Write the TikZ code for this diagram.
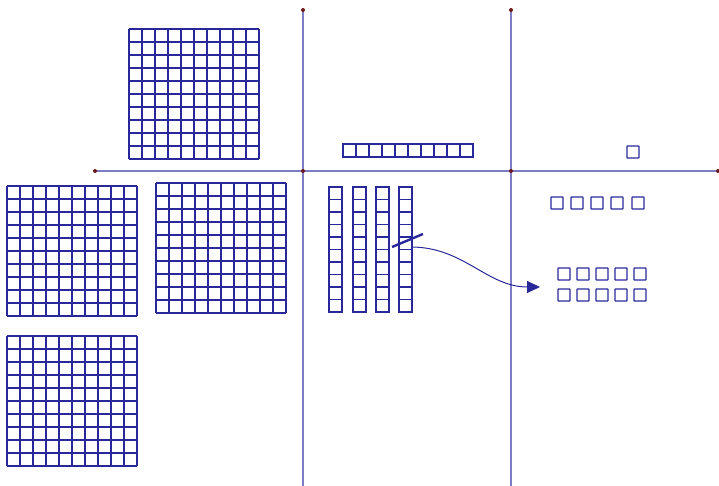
\documentclass[tikz,border=0pt]{standalone}
\usetikzlibrary{arrows.meta}
\definecolor{BlockBlue}{RGB}{40,40,155}
\definecolor{AxisBlue}{RGB}{125,125,195}
\definecolor{DotRed}{RGB}{110,25,25}

\tikzset{
  hundred/.pic={
    \foreach \k in {0,...,10} {
      \draw[cell] (\k*13,0) -- (\k*13,130);
      \draw[cell] (0,\k*13) -- (130,\k*13);
    }
  },
  tencol/.pic={
    \draw[cell] (0,0) rectangle (13,125);
    \foreach \k in {1,...,9} \draw[cell] (0,\k*12.5) -- (13,\k*12.5);
  },
  tenrow/.pic={
    \draw[cell] (0,0) rectangle (130,13);
    \foreach \k in {1,...,9} \draw[cell] (\k*13,0) -- (\k*13,13);
  },
}

\begin{document}
\begin{tikzpicture}[x=1bp, y=-1bp,
    cell/.style={draw=BlockBlue, line width=1.2bp},
    unit/.style={draw=BlockBlue, line width=1.3bp, rounded corners=0.5bp},
    axis/.style={AxisBlue, line width=1.6bp},
    cutline/.style={BlockBlue, line width=2.4bp},
    move/.style={-{Triangle[length=13bp, width=12bp]}, line width=1bp, BlockBlue},
    dot/.style={circle, fill=DotRed, inner sep=0pt, minimum size=4bp},
  ]
  \useasboundingbox (0,0) rectangle (719,486);

  % place-value axes
  \coordinate (hl) at (95,171);
  \coordinate (hr) at (718,171);
  \coordinate (ta) at (303,10);
  \coordinate (tb) at (511,10);
  \coordinate (ba) at (303,486);
  \coordinate (bb) at (511,486);
  \coordinate (ca) at (303,171);
  \coordinate (cb) at (511,171);
  \draw[axis] (hl) -- (hr);
  \draw[axis] (ta) -- (ba);
  \draw[axis] (tb) -- (bb);
  \foreach \p in {hl,hr,ta,tb,ca,cb} \node[dot] at (\p) {};

  % hundreds
  \pic at (129,29) {hundred};
  \pic at (7,186) {hundred};
  \pic at (156,183) {hundred};
  \pic at (7,336) {hundred};

  % tens
  \pic at (343,144) {tenrow};
  \foreach \x in {329,353,376,399} \pic at (\x,187) {tencol};

  % ones
  \draw[unit] (627,146) rectangle ++(12,12);
  \foreach \x in {551,571,591,611,632} \draw[unit] (\x,197) rectangle ++(12,12);
  \foreach \x in {558,577,596,615,634} {
    \draw[unit] (\x,268) rectangle ++(12,12);
    \draw[unit] (\x,289) rectangle ++(12,12);
  }

  % regrouping one ten
  \coordinate (cuta) at (392,247);
  \coordinate (cutb) at (423,234);
  \draw[cutline] (cuta) -- (cutb);
  \coordinate (from) at (411,247);
  \coordinate (to) at (540,287);
  \draw[move] (from) to[out=0, in=180] (to);
\end{tikzpicture}
\end{document}
